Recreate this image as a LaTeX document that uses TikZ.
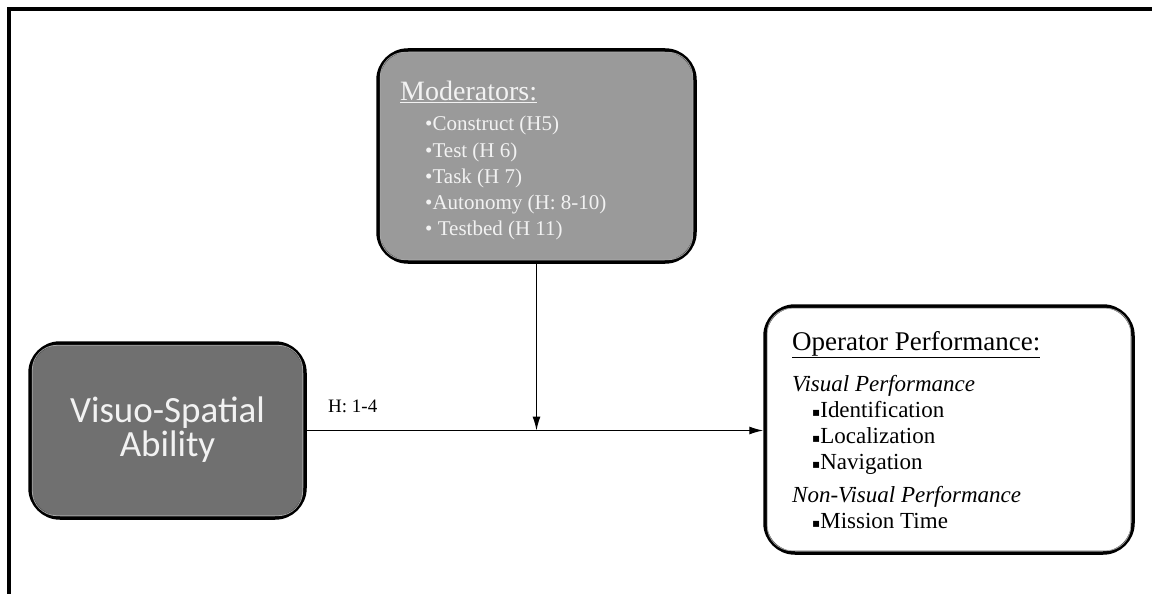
\documentclass[tikz,border=0pt]{standalone}
\usepackage{fontspec}
\setmainfont{Liberation Serif}
\newfontfamily\calib{Carlito}
\newfontfamily\dvs{DejaVu Sans}
\usetikzlibrary{arrows.meta}
\definecolor{modgray}{RGB}{154,154,154}
\definecolor{visgray}{RGB}{112,112,112}
\definecolor{txtwhite}{RGB}{242,242,242}
\tikzset{
  box/.style={rectangle, rounded corners=30pt, draw=black, line width=3.5pt, inner sep=0pt},
  innerline/.style={draw=gray!70, line width=0.8pt, rounded corners=25pt},
  conn/.style={line width=1.2pt, -{Latex[length=14pt,width=8pt]}},
  txt/.style={inner sep=0pt, anchor=base west, align=left},
}
\newcommand{\sqb}{{\dvs\fontsize{12}{12}\selectfont\raisebox{1pt}{▪}}}
\begin{document}
\begin{tikzpicture}[x=1pt,y=-1pt]
\useasboundingbox (0,0) rectangle (1152,594);
\fill[white] (0,0) rectangle (1152,594);
% frame
\draw[line width=3.5pt] (9,594) -- (9,9) -- (1152,9);
% boxes
\node[box, fill=modgray, minimum width=317pt, minimum height=212pt] (mod) at (536.5,156) {};
\node[box, fill=visgray, minimum width=275pt, minimum height=175pt] (vis) at (167.5,430.5) {};
\node[box, fill=white, minimum width=368pt, minimum height=247pt] (op) at (949,429.5) {};
\draw[innerline] ([shift={(4pt,-4pt)}]mod.north west) rectangle ([shift={(-4pt,4pt)}]mod.south east);
\draw[innerline] ([shift={(4pt,-4pt)}]vis.north west) rectangle ([shift={(-4pt,4pt)}]vis.south east);
\draw[innerline] ([shift={(4pt,-4pt)}]op.north west) rectangle ([shift={(-4pt,4pt)}]op.south east);
% texts moderators
\node[txt, text=txtwhite, font=\fontsize{28}{30}\selectfont] (modh) at (400,100) {\underline{Moderators:}};
\node[txt, text=txtwhite, font=\fontsize{21}{26.3}\selectfont, anchor=north west] (modl) at (425,116)
  {•Construct (H5)\\•Test (H 6)\\•Task (H 7)\\•Autonomy (H: 8-10)\\• Testbed (H 11)};
% visuo
\node[inner sep=0pt, text=txtwhite, align=center, font=\calib\fontsize{37}{34}\selectfont] (vist) at (167.5,430) {Visuo-Spatial\\Ability};
% operator
\node[txt, font=\fontsize{27}{30}\selectfont] (oph) at (792,350) {\underline{Operator Performance:}};
\node[txt, font=\fontsize{23}{26}\selectfont, anchor=north west] (opl) at (792,375)
  {\textit{Visual Performance}\\
   \hspace{20pt}\sqb Identification\\
   \hspace{20pt}\sqb Localization\\
   \hspace{20pt}\sqb Navigation\\[7pt]
   \textit{Non-Visual Performance}\\
   \hspace{20pt}\sqb Mission Time};
% connectors
\coordinate (meet) at (mod.south |- vis.east);
\draw[conn] (vis.east) -- (op.west |- vis.east);
\draw[conn] (mod.south) -- (meet);
\node[txt, font=\fontsize{19}{22}\selectfont] (hlab) at (328,412) {H: 1-4};
\end{tikzpicture}
\end{document}
